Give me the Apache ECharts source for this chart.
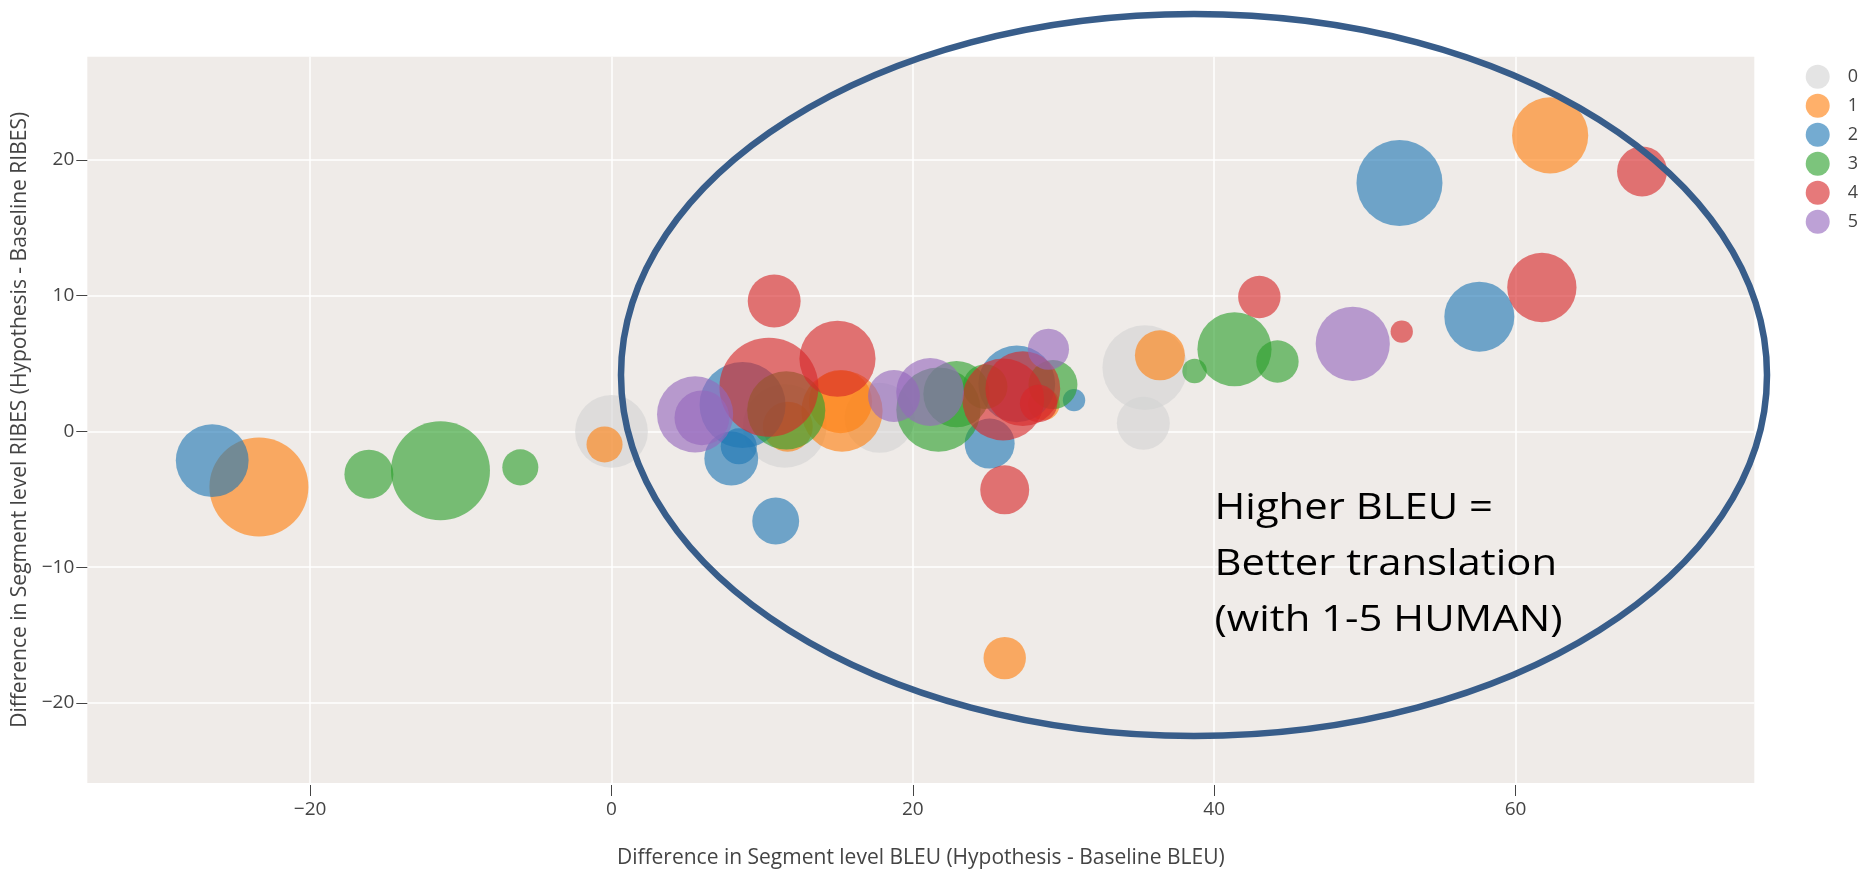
<!DOCTYPE html>
<html><head><meta charset="utf-8">
<script src="https://cdn.jsdelivr.net/npm/echarts@6/dist/echarts.min.js"></script>
<style>html,body{margin:0;padding:0;background:#fff}#c{width:1858px;height:874px}</style>
</head><body><div id="c"></div>
<script>
// Categories (human score groups)
const categories = ['0', '1', '2', '3', '4', '5'];
// Tick labels
const xTicks = [-20, 0, 20, 40, 60];
const yTicks = [-20, -10, 0, 10, 20];
// Each point: [BLEU difference, RIBES difference, count]
const group0 = [[0.0, 0.0, 53], [11.5, 0.4, 70], [17.8, 1.0, 49], [35.4, 4.7, 72], [35.3, 0.6, 28]];
const group1 = [[-23.4, -4.1, 98], [-0.46, -0.96, 13], [11.7, 0.35, 25], [15.3, 1.5, 66], [15.2, 2.2, 40],
                [36.4, 5.6, 25], [26.1, -16.7, 18], [62.3, 21.8, 58], [28.7, 2.0, 10]];
const group2 = [[-26.5, -2.15, 53], [8.7, 1.95, 74], [7.95, -2.0, 29], [8.45, -1.1, 13], [10.9, -6.6, 22],
                [26.9, 3.5, 59], [25.1, -0.9, 25], [30.7, 2.3, 5], [52.3, 18.3, 74], [57.6, 8.45, 49]];
const group3 = [[-16.1, -3.15, 24], [-11.35, -2.9, 98], [-6.05, -2.65, 13], [11.6, 1.55, 61], [21.7, 1.6, 71],
                [22.9, 2.75, 44], [24.8, 3.3, 20], [29.3, 3.45, 24], [38.7, 4.45, 6], [41.35, 6.05, 55], [44.2, 5.15, 18]];
const group4 = [[10.8, 9.6, 28], [10.45, 3.25, 98], [15.0, 5.35, 58], [26.0, 2.35, 67], [27.3, 3.15, 56],
                [28.35, 2.05, 14], [26.1, -4.3, 24], [43.0, 9.9, 18], [52.45, 7.35, 5], [61.75, 10.6, 48], [68.4, 19.15, 25]];
const group5 = [[5.55, 1.25, 58], [6.0, 1.0, 30], [18.75, 2.6, 27], [21.15, 2.9, 46], [29.0, 6.05, 17], [49.2, 6.45, 55]];
const groups = [group0, group1, group2, group3, group4, group5];

const colors = ['rgba(211,211,211,0.62)', 'rgba(255,127,14,0.62)', 'rgba(31,119,180,0.62)',
                'rgba(44,160,44,0.62)', 'rgba(214,39,40,0.62)', 'rgba(148,103,189,0.62)'];
const font = 'Open Sans';
const minus = v => String(v).replace('-', '\u2212');

const chart = echarts.init(document.getElementById('c'));
chart.setOption({
  animation: false,
  backgroundColor: '#ffffff',
  grid: { left: 87.3, right: 103.7, top: 56.7, bottom: 85, show: true, backgroundColor: '#efebe8', borderWidth: 0 },
  legend: {
    orient: 'vertical', left: 1805.7, top: 64.7, padding: 0,
    itemWidth: 24, itemHeight: 24, itemGap: 5, icon: 'circle',
    data: categories,
    textStyle: { fontFamily: font, fontSize: 18, color: '#444', padding: [0, 0, 0, 13] }
  },
  xAxis: {
    type: 'value', min: -34.79, max: 75.85, offset: 2,
    axisLine: { show: false, onZero: false },
    axisTick: { show: true, customValues: xTicks, length: 11, lineStyle: { color: '#444', width: 1 } },
    axisLabel: { customValues: xTicks, margin: 15, color: '#444', fontSize: 19, fontFamily: font, formatter: minus },
    splitLine: { show: true, lineStyle: { color: '#ffffff', width: 1.5 } },
    name: 'Difference in Segment level BLEU (Hypothesis - Baseline BLEU)',
    nameLocation: 'middle', nameGap: 63,
    nameTextStyle: { fontFamily: font, fontSize: 21, color: '#444' }
  },
  yAxis: {
    type: 'value', min: -25.9, max: 27.6,
    axisLine: { show: false, onZero: false },
    axisTick: { show: true, customValues: yTicks, length: 11, lineStyle: { color: '#444', width: 1 } },
    axisLabel: { customValues: yTicks, margin: 13, color: '#444', fontSize: 19, fontFamily: font, formatter: minus },
    splitLine: { show: true, lineStyle: { color: '#ffffff', width: 1.5 } },
    name: 'Difference in Segment level RIBES (Hypothesis - Baseline RIBES)',
    nameLocation: 'middle', nameGap: 52,
    nameTextStyle: { fontFamily: font, fontSize: 21, color: '#444' }
  },
  series: groups.map((g, i) => ({
    name: categories[i],
    type: 'scatter',
    data: g,
    symbolSize: v => 10 * Math.sqrt(v[2]),
    itemStyle: { color: colors[i], opacity: 1 },
    emphasis: { disabled: true }
  })),
  graphic: [
    { type: 'ellipse', z: 100, silent: true,
      shape: { cx: 1194, cy: 375, rx: 573, ry: 361 },
      style: { fill: 'none', stroke: '#385d8a', lineWidth: 6.5 } },
    { type: 'text', z: 101, silent: true, x: 1214.5, y: 480, scaleX: 1.13,
      style: { text: 'Higher BLEU =\nBetter translation\n(with 1-5 HUMAN)', font: '37px "Open Sans"', fill: '#000', lineHeight: 56, verticalAlign: 'top' } }
  ]
});
</script>
</body></html>
